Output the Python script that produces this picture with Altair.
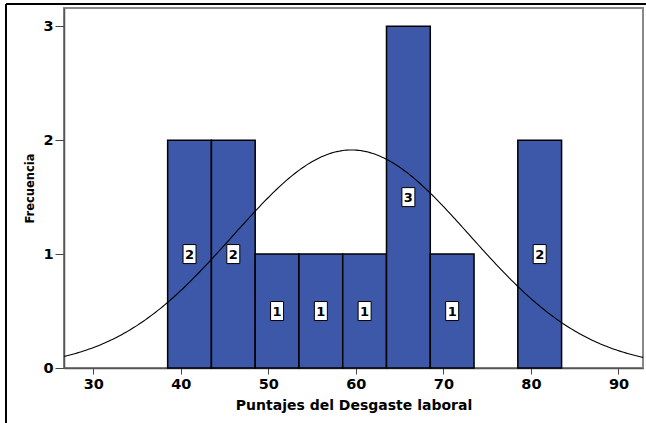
import numpy as np
import pandas as pd
import altair as alt

# Histogram bins (lower edges, width 5) and their frequencies
bin_lo = [38.5, 43.5, 48.5, 53.5, 58.5, 63.5, 68.5, 73.5, 78.5]
counts = [2, 2, 1, 1, 1, 3, 1, 0, 2]
bin_width = 5.0

# Summary statistics used for the fitted normal curve
n_obs = 13
mean_val = 59.5
sd_val = 13.55

x_ticks = [30, 40, 50, 60, 70, 80, 90]
y_ticks = [0, 1, 2, 3]
x_dom = [26.66, 92.8]
y_dom = [0, 3.16]

bars = pd.DataFrame({
    "lo": bin_lo,
    "hi": [b + bin_width for b in bin_lo],
    "mid": [b + bin_width / 2 for b in bin_lo],
    "count": counts,
})
bars = bars[bars["count"] > 0].copy()
bars["label_y"] = bars["count"] / 2

xs = np.linspace(x_dom[0], x_dom[1], 300)
dens = n_obs * bin_width / (sd_val * np.sqrt(2 * np.pi)) * np.exp(-0.5 * ((xs - mean_val) / sd_val) ** 2)
curve = pd.DataFrame({"x": xs, "y": dens})

xscale = alt.Scale(domain=x_dom, nice=False, zero=False)
yscale = alt.Scale(domain=y_dom, nice=False)

FONT = "DejaVu Sans"

x_axis = alt.Axis(
    values=x_ticks, title="Puntajes del Desgaste laboral", grid=False, format="d",
    tickSize=6, tickColor="#444", domainColor="#555", domainWidth=1.5,
    labelFont=FONT, labelFontSize=14.5, labelFontWeight="bold", labelColor="black",
    labelPadding=3, titleFont=FONT, titleFontSize=14, titleFontWeight="bold",
    titleColor="black", titlePadding=8,
)
y_axis = alt.Axis(
    values=y_ticks, title="Frecuencia", grid=False, format="d",
    tickSize=9, tickColor="#444", domainColor="#555", domainWidth=1.5,
    labelFont=FONT, labelFontSize=14.5, labelFontWeight="bold", labelColor="black",
    labelPadding=2, titleFont=FONT, titleFontSize=11.5, titleFontWeight="bold",
    titleColor="black", titlePadding=7,
)

bar_layer = alt.Chart(bars).mark_rect(
    fill="#3D58A9", stroke="black", strokeWidth=1.5
).encode(
    x=alt.X("lo:Q", scale=xscale, axis=x_axis),
    x2="hi:Q",
    y=alt.Y("count:Q", scale=yscale, axis=y_axis),
    y2=alt.datum(0),
)

curve_layer = alt.Chart(curve).mark_line(color="black", strokeWidth=1.1).encode(
    x=alt.X("x:Q", scale=xscale),
    y=alt.Y("y:Q", scale=yscale),
)

box_layer = alt.Chart(bars).mark_rect(
    width=13, height=19, fill="white", stroke="black", strokeWidth=1
).encode(
    x=alt.X("mid:Q", scale=xscale),
    y=alt.Y("label_y:Q", scale=yscale),
)

text_layer = alt.Chart(bars).mark_text(
    font=FONT, fontSize=13, fontWeight="bold", color="black",
    align="center", baseline="middle", dy=1,
).encode(
    x=alt.X("mid:Q", scale=xscale),
    y=alt.Y("label_y:Q", scale=yscale),
    text="count:Q",
)

# Outer frame lines around the whole figure
frame_left = alt.Chart(bars).mark_rule(color="black", strokeWidth=1.5).encode(
    x=alt.value(-58), y=alt.value(-4), y2=alt.value(420)
)
frame_top = alt.Chart(bars).mark_rule(color="black", strokeWidth=1.5).encode(
    x=alt.value(-58), x2=alt.value(590), y=alt.value(-4)
)

chart = alt.layer(
    bar_layer, curve_layer, box_layer, text_layer, frame_left, frame_top
).properties(
    width=579, height=360,
    autosize=alt.AutoSizeParams(type="none"),
    padding={"left": 64, "top": 8, "right": 3, "bottom": 55},
    background="white",
).configure_view(
    stroke="#888888", strokeWidth=2
)

chart.save("out.html", embed_options={"renderer": "svg", "actions": False})
